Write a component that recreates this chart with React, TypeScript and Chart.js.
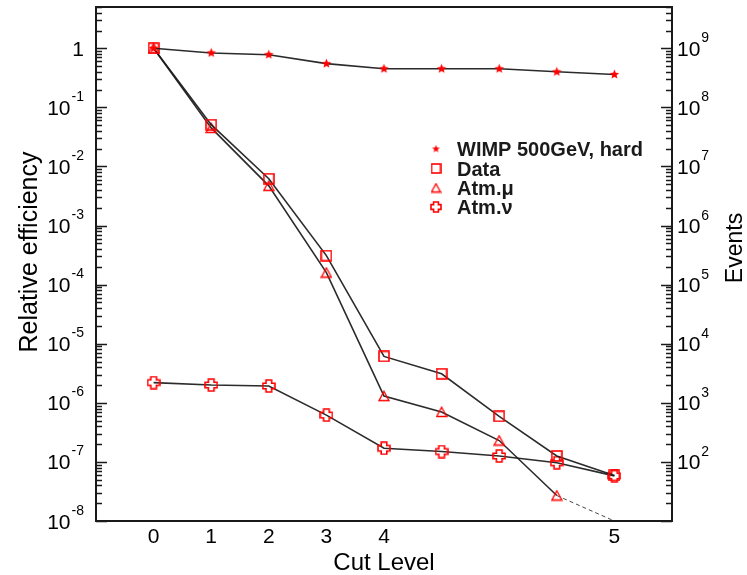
import React, { useEffect, useRef } from 'react';
import { Chart, registerables } from 'chart.js';

Chart.register(...registerables);

// ---------------- data ----------------
const cutPositions = [0, 1, 2, 3, 4, 5, 6, 7, 8];
const xTickPositions = [0, 1, 2, 3, 4, 8];
const xTickLabels = ['0', '1', '2', '3', '4', '5'];

const wimpEff = [1.0, 0.835, 0.78, 0.55, 0.45, 0.45, 0.45, 0.40, 0.36];
const dataEff = [1.0, 0.051, 0.0062, 3.1e-4, 6.1e-6, 3.1e-6, 5.9e-7, 1.26e-7, 5.9e-8];
const atmMuPositions = [0, 1, 2, 3, 4, 5, 6, 7];
const atmMuEff = [1.0, 0.045, 0.0047, 1.6e-4, 1.3e-6, 7.0e-7, 2.3e-7, 2.7e-8];
const atmMuExtrapPositions = [7, 8];
const atmMuExtrapEff = [2.7e-8, 1.0e-8];
const atmNuEff = [2.2e-6, 2.0e-6, 1.93e-6, 6.2e-7, 1.7e-7, 1.5e-7, 1.26e-7, 9.7e-8, 5.8e-8];

const leftTickExponents = [0, -1, -2, -3, -4, -5, -6, -7, -8];
const rightTickExponents = [2, 3, 4, 5, 6, 7, 8, 9];
const eventsPerUnitEfficiency = 1e9;
const effMin = 1e-8;
const effMax = 5;
const xMin = -1;
const xMax = 9;

const legendLabels = ['WIMP 500GeV, hard', 'Data', 'Atm.\u03bc', 'Atm.\u03bd'];

// ---------------- styles ----------------
const FONT = "'Liberation Sans', Arial, Helvetica, sans-serif";
const RED = '#ff0000';
const LINE = 'rgba(25,25,25,0.92)';
const TEXT = '#000000';

function makeMarker(kind: string, size: number): HTMLCanvasElement {
  const c = document.createElement('canvas');
  c.width = size;
  c.height = size;
  const ctx = c.getContext('2d')!;
  const m = size / 2;
  ctx.strokeStyle = RED;
  ctx.fillStyle = RED;
  if (kind === 'star') {
    const R = size / 2 - 0.5;
    const r = R * 0.45;
    ctx.beginPath();
    for (let i = 0; i < 10; i++) {
      const ang = -Math.PI / 2 + (i * Math.PI) / 5;
      const rad = i % 2 === 0 ? R : r;
      const px = m + rad * Math.cos(ang);
      const py = m + rad * Math.sin(ang);
      if (i === 0) ctx.moveTo(px, py);
      else ctx.lineTo(px, py);
    }
    ctx.closePath();
    ctx.fill();
  } else if (kind === 'square') {
    ctx.lineWidth = 1.6;
    ctx.strokeRect(1, 1, size - 2, size - 2);
  } else if (kind === 'triangle') {
    ctx.lineWidth = 1.3;
    ctx.beginPath();
    ctx.moveTo(m, 1.2);
    ctx.lineTo(size - 1, size - 1.5);
    ctx.lineTo(1, size - 1.5);
    ctx.closePath();
    ctx.stroke();
  } else if (kind === 'cross') {
    ctx.lineWidth = 1.6;
    const a = size * 0.2; // half arm width
    const e = size / 2 - 1;
    ctx.beginPath();
    ctx.moveTo(m - a, m - e);
    ctx.lineTo(m + a, m - e);
    ctx.lineTo(m + a, m - a);
    ctx.lineTo(m + e, m - a);
    ctx.lineTo(m + e, m + a);
    ctx.lineTo(m + a, m + a);
    ctx.lineTo(m + a, m + e);
    ctx.lineTo(m - a, m + e);
    ctx.lineTo(m - a, m + a);
    ctx.lineTo(m - e, m + a);
    ctx.lineTo(m - e, m - a);
    ctx.lineTo(m - a, m - a);
    ctx.closePath();
    ctx.stroke();
  }
  return c;
}

function toPoints(xs: number[], ys: number[]) {
  return xs.map((x, i) => ({ x, y: ys[i] }));
}

export default function App() {
  const canvasRef = useRef<HTMLCanvasElement | null>(null);

  useEffect(() => {
    const canvas = canvasRef.current;
    if (!canvas) return;

    const starImg = makeMarker('star', 11);
    const squareImg = makeMarker('square', 12);
    const triImg = makeMarker('triangle', 12);
    const crossImg = makeMarker('cross', 14);
    const legendImgs = [makeMarker('star', 9), makeMarker('square', 11), makeMarker('triangle', 11), makeMarker('cross', 12)];

    const decorPlugin = {
      id: 'decor',
      afterDraw(chart: any) {
        const ctx: CanvasRenderingContext2D = chart.ctx;
        const { left, right, top, bottom } = chart.chartArea;
        const y = chart.scales.y;
        const y2 = chart.scales.y2;
        const x = chart.scales.x;
        ctx.save();

        // frame
        ctx.strokeStyle = '#1a1a1a';
        ctx.lineWidth = 2;
        ctx.strokeRect(left, top, right - left, bottom - top);

        // ticks
        ctx.lineWidth = 1.4;
        ctx.beginPath();
        for (let e = -8; e <= 0; e++) {
          for (let mnt = 1; mnt <= 9; mnt++) {
            const v = mnt * Math.pow(10, e);
            if (v > effMax * 1.0001) continue;
            const py = Math.round(y.getPixelForValue(v)) + 0.5;
            const len = mnt === 1 ? 11 : 6;
            ctx.moveTo(left, py);
            ctx.lineTo(left + len, py);
          }
        }
        for (let e = 1; e <= 9; e++) {
          for (let mnt = 1; mnt <= 9; mnt++) {
            const v = mnt * Math.pow(10, e);
            if (v > effMax * eventsPerUnitEfficiency * 1.0001) continue;
            const py = Math.round(y2.getPixelForValue(v)) + 0.5;
            const len = mnt === 1 ? 11 : 6;
            ctx.moveTo(right, py);
            ctx.lineTo(right - len, py);
          }
        }
        ctx.stroke();

        ctx.fillStyle = TEXT;
        ctx.textBaseline = 'alphabetic';
        const mainFont = `21px ${FONT}`;
        const supFont = `14px ${FONT}`;

        // left labels
        for (const e of leftTickExponents) {
          const py = y.getPixelForValue(Math.pow(10, e));
          const rightEdge = 84;
          if (e === 0) {
            ctx.font = mainFont;
            ctx.textAlign = 'right';
            ctx.fillText('1', rightEdge, py + 7.5);
          } else {
            ctx.font = mainFont;
            const w1 = ctx.measureText('10').width;
            ctx.font = supFont;
            const sup = '-' + String(-e);
            const w2 = ctx.measureText(sup).width;
            const sx = rightEdge - w1 - w2 - 1;
            ctx.textAlign = 'left';
            ctx.font = mainFont;
            ctx.fillText('10', sx, py + 7.5);
            ctx.font = supFont;
            ctx.fillText(sup, sx + w1 + 1, py - 6.5);
          }
        }

        // right labels
        for (const e of rightTickExponents) {
          const py = y2.getPixelForValue(Math.pow(10, e));
          const sx = right + 5;
          ctx.textAlign = 'left';
          ctx.font = mainFont;
          const w1 = ctx.measureText('10').width;
          ctx.fillText('10', sx, py + 7.5);
          ctx.font = supFont;
          ctx.fillText(String(e), sx + w1 + 1, py - 6);
        }

        // x labels
        ctx.font = mainFont;
        ctx.textAlign = 'center';
        xTickPositions.forEach((p, i) => {
          const px = x.getPixelForValue(p);
          ctx.fillText(xTickLabels[i], px, 543);
        });

        // titles
        ctx.font = `24px ${FONT}`;
        ctx.textAlign = 'center';
        ctx.fillText('Cut Level', (left + right) / 2, 570);

        ctx.save();
        ctx.translate(37, (top + bottom) / 2 - 12);
        ctx.rotate(-Math.PI / 2);
        ctx.font = `25px ${FONT}`;
        ctx.fillText('Relative efficiency', 0, 0);
        ctx.restore();

        ctx.save();
        ctx.translate(742, (top + bottom) / 2 - 16);
        ctx.rotate(-Math.PI / 2);
        ctx.font = `23px ${FONT}`;
        ctx.fillText('Events', 0, 0);
        ctx.restore();

        // legend
        const rows = [149, 168.5, 188, 207];
        ctx.font = `bold 20px ${FONT}`;
        ctx.textAlign = 'left';
        ctx.fillStyle = '#1a1a1a';
        legendLabels.forEach((lbl, i) => {
          const img = legendImgs[i];
          ctx.drawImage(img, 436 - img.width / 2, rows[i] - img.height / 2);
          ctx.fillText(lbl, 457, rows[i] + 7);
        });

        ctx.restore();
      },
    };

    const lineBase = {
      borderColor: LINE,
      borderWidth: 1.6,
      backgroundColor: 'transparent',
      pointRadius: 5,
      showLine: true,
      fill: false,
      tension: 0,
    };

    const chart = new Chart(canvas, {
      type: 'line',
      data: {
        datasets: [
          { ...lineBase, label: legendLabels[0], data: toPoints(cutPositions, wimpEff), pointStyle: starImg as any },
          { ...lineBase, label: legendLabels[1], data: toPoints(cutPositions, dataEff), pointStyle: squareImg as any },
          { ...lineBase, label: legendLabels[2], data: toPoints(atmMuPositions, atmMuEff), pointStyle: triImg as any },
          {
            ...lineBase,
            label: 'extrapolation',
            data: toPoints(atmMuExtrapPositions, atmMuExtrapEff),
            borderDash: [4, 3],
            borderWidth: 1,
            pointRadius: 0,
            borderColor: 'rgba(40,40,40,0.85)',
          },
          { ...lineBase, label: legendLabels[3], data: toPoints(cutPositions, atmNuEff), pointStyle: crossImg as any },
        ],
      },
      options: {
        responsive: false,
        maintainAspectRatio: false,
        animation: false,
        events: [],
        layout: { padding: { left: 96, right: 75, top: 7, bottom: 54 } },
        plugins: { legend: { display: false }, tooltip: { enabled: false } },
        scales: {
          x: { type: 'linear', min: xMin, max: xMax, display: false },
          y: { type: 'logarithmic', min: effMin, max: effMax, display: false },
          y2: {
            type: 'logarithmic',
            min: effMin * eventsPerUnitEfficiency,
            max: effMax * eventsPerUnitEfficiency,
            display: false,
            position: 'right',
          },
        },
      },
      plugins: [decorPlugin],
    });

    return () => chart.destroy();
  }, []);

  return (
    <div style={{ position: 'absolute', left: 0, top: 0, width: 747, height: 575, background: '#fff' }}>
      <canvas ref={canvasRef} width={747} height={575} style={{ display: 'block' }} />
    </div>
  );
}
